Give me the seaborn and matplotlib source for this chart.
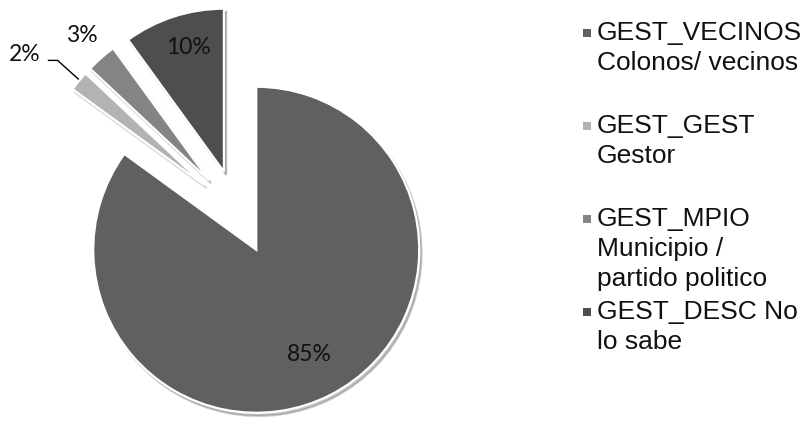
import numpy as np
import matplotlib
matplotlib.use("Agg")
import matplotlib.pyplot as plt
import matplotlib.patches as mpatches
import seaborn as sns

# Data
categories = ["GEST_VECINOS", "GEST_GEST", "GEST_MPIO", "GEST_DESC"]
legend_labels = [
    "GEST_VECINOS\nColonos/ vecinos",
    "GEST_GEST\nGestor",
    "GEST_MPIO\nMunicipio /\npartido politico",
    "GEST_DESC No\nlo sabe",
]
shares = [85, 2, 3, 10]
colors = ["#606060", "#b3b3b3", "#848484", "#4e4e4e"]

sns.set_theme(style="white")
plt.rcParams["font.family"] = ["Liberation Sans", "DejaVu Sans"]

W, H, DPI = 810, 422, 100
fig = plt.figure(figsize=(W / DPI, H / DPI), dpi=DPI)
ax = fig.add_axes([0, 0, 1, 1])

# pixel scale: one pie radius in pixels, and the pie centre in pixels
R_PX = 163.0
CX, CY = 237.0, 212.0

wedges, _ = ax.pie(
    shares,
    colors=colors,
    startangle=90,
    counterclock=False,
    explode=[0.26] * len(shares),
    radius=1.0,
    wedgeprops=dict(edgecolor="white", linewidth=1.6),
    shadow=dict(ox=0.01, oy=-0.014, shade=0.2, alpha=0.3),
)

ax.set_xlim(-CX / R_PX, (W - CX) / R_PX)
ax.set_ylim((CY - H) / R_PX, CY / R_PX)
ax.set_aspect("equal", adjustable="datalim")
ax.axis("off")

# percentage labels placed along each wedge (distance, angle shift)
label_place = [(0.72, 0.0), (1.36, 3.6), (1.18, 0.0), (0.79, -2.0)]
pct_font = dict(family=["Lato", "DejaVu Sans"], fontsize=16.5, color="#111111")
for w, val, (dist, dth) in zip(wedges, shares, label_place):
    cx, cy = w.center
    mid = np.deg2rad((w.theta1 + w.theta2) / 2 + dth)
    tx, ty = cx + dist * np.cos(mid), cy + dist * np.sin(mid)
    ax.text(tx, ty, f"{val}%", ha="center", va="center", **pct_font)
    if dist > 1.3:
        # leader line from label to the wedge rim
        m0 = np.deg2rad((w.theta1 + w.theta2) / 2)
        ex, ey = cx + np.cos(m0), cy + np.sin(m0)
        ax.plot([tx + 0.14, tx + 0.20, ex], [ty - 0.035, ty - 0.035, ey + 0.01],
                color="black", lw=1.0, solid_capstyle="butt")

# legend drawn as stacked entries
leg_x_marker = 587
leg_x_text = 597
leg_y0 = 33
leg_step = 93
line_h = 30
for i, (lab, col) in enumerate(zip(legend_labels, colors)):
    y = leg_y0 + i * leg_step
    fig.patches.append(mpatches.Rectangle(
        ((leg_x_marker - 4) / W, 1 - (y + 4) / H), 8 / W, 8 / H,
        transform=fig.transFigure, facecolor=col, edgecolor="none"))
    for j, line in enumerate(lab.split("\n")):
        fig.text(leg_x_text / W, 1 - (y + j * line_h) / H, line,
                 ha="left", va="center", fontsize=19, color="#111111")

fig.savefig("out.png", dpi=DPI)
